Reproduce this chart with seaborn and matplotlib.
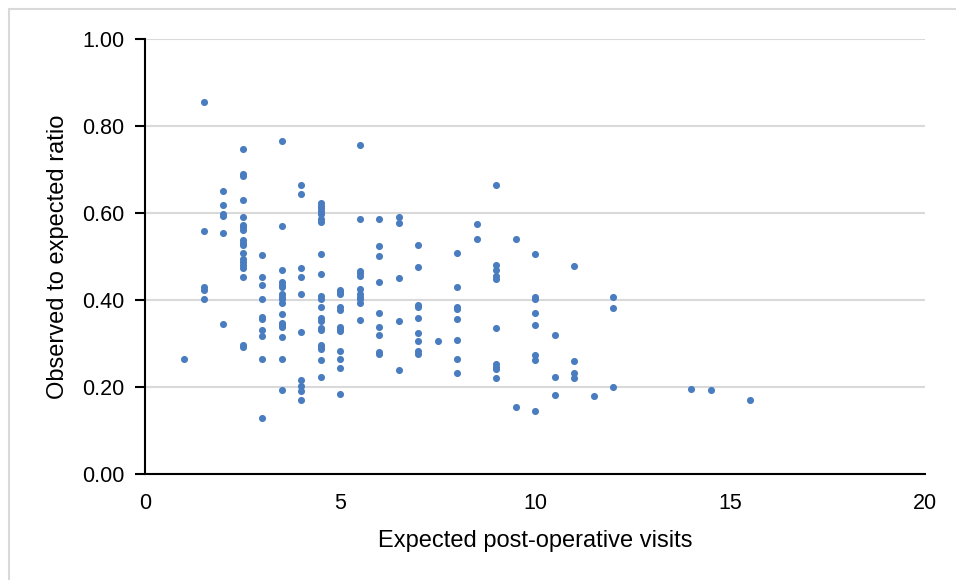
import matplotlib
matplotlib.use("Agg")
import matplotlib.pyplot as plt
import seaborn as sns
import pandas as pd
from matplotlib.patches import Rectangle

# ---- data: observed-to-expected ratio grouped by expected visits ----
x_groups = [1, 1.5, 2, 2.5, 3, 3.5, 4, 4.5, 5, 5.5, 6, 6.5, 7, 7.5, 8, 8.5,
            9, 9.5, 10, 10.5, 11, 11.5, 12, 14, 14.5, 15.5]

r_1_0 = [0.265]
r_1_5 = [0.856, 0.558, 0.429, 0.423, 0.403]
r_2_0 = [0.651, 0.619, 0.597, 0.592, 0.553, 0.344]
r_2_5 = [0.746, 0.690, 0.686, 0.630, 0.590, 0.573, 0.567, 0.561, 0.538, 0.532,
         0.526, 0.509, 0.494, 0.487, 0.481, 0.474, 0.452, 0.297, 0.291]
r_3_0 = [0.504, 0.452, 0.435, 0.403, 0.362, 0.356, 0.332, 0.318, 0.264, 0.128]
r_3_5 = [0.766, 0.571, 0.468, 0.441, 0.435, 0.430, 0.414, 0.408, 0.403, 0.393,
         0.368, 0.347, 0.343, 0.339, 0.314, 0.264, 0.192]
r_4_0 = [0.665, 0.644, 0.473, 0.452, 0.413, 0.326, 0.217, 0.203, 0.190, 0.171]
r_4_5 = [0.623, 0.617, 0.611, 0.605, 0.598, 0.586, 0.580, 0.505, 0.460, 0.409,
         0.403, 0.385, 0.358, 0.352, 0.336, 0.331, 0.297, 0.292, 0.287, 0.262, 0.222]
r_5_0 = [0.423, 0.418, 0.414, 0.383, 0.377, 0.338, 0.333, 0.328, 0.282, 0.264,
         0.244, 0.184]
r_5_5 = [0.757, 0.587, 0.467, 0.461, 0.456, 0.425, 0.414, 0.408, 0.403, 0.394, 0.354]
r_6_0 = [0.586, 0.525, 0.501, 0.441, 0.369, 0.339, 0.320, 0.280, 0.275]
r_6_5 = [0.590, 0.577, 0.451, 0.352, 0.240]
r_7_0 = [0.527, 0.477, 0.388, 0.384, 0.359, 0.325, 0.305, 0.283, 0.277]
r_7_5 = [0.306]
r_8_0 = [0.509, 0.429, 0.383, 0.379, 0.356, 0.309, 0.264, 0.232]
r_8_5 = [0.574, 0.541]
r_9_0 = [0.664, 0.481, 0.468, 0.455, 0.449, 0.336, 0.252, 0.247, 0.242, 0.220]
r_9_5 = [0.540, 0.155]
r_10_0 = [0.505, 0.406, 0.402, 0.369, 0.343, 0.273, 0.263, 0.144]
r_10_5 = [0.320, 0.222, 0.181]
r_11_0 = [0.478, 0.259, 0.233, 0.221]
r_11_5 = [0.179]
r_12_0 = [0.408, 0.381, 0.201]
r_14_0 = [0.196]
r_14_5 = [0.193]
r_15_5 = [0.171]

ratio_groups = [r_1_0, r_1_5, r_2_0, r_2_5, r_3_0, r_3_5, r_4_0, r_4_5, r_5_0,
                r_5_5, r_6_0, r_6_5, r_7_0, r_7_5, r_8_0, r_8_5, r_9_0, r_9_5,
                r_10_0, r_10_5, r_11_0, r_11_5, r_12_0, r_14_0, r_14_5, r_15_5]

x_ticks = [0, 5, 10, 15, 20]
y_ticks = [0.0, 0.2, 0.4, 0.6, 0.8, 1.0]
y_tick_labels = ["0.00", "0.20", "0.40", "0.60", "0.80", "1.00"]

rows = []
for xv, ys in zip(x_groups, ratio_groups):
    for yv in ys:
        rows.append((xv, yv))
df = pd.DataFrame(rows, columns=["Expected post-operative visits",
                                 "Observed to expected ratio"])

# ---- figure ----
sns.set_theme(style="white")
plt.rcParams["font.family"] = ["Liberation Sans", "DejaVu Sans"]

fig = plt.figure(figsize=(9.56, 5.80), dpi=100)
ax = fig.add_axes([145 / 956, 1 - 474 / 580, 780 / 956, 435 / 580])

sns.scatterplot(data=df, x="Expected post-operative visits",
                y="Observed to expected ratio", ax=ax, color="#4a7dbf",
                s=26, linewidth=0, zorder=3)

ax.set_xlim(0, 20)
ax.set_ylim(0, 1.0)
ax.set_xticks(x_ticks)
ax.set_xticklabels([str(t) for t in x_ticks])
ax.set_yticks(y_ticks)
ax.set_yticklabels(y_tick_labels)

ax.grid(axis="y", color="#d9d9d9", linewidth=1.5, zorder=0)
ax.grid(axis="x", visible=False)
ax.set_axisbelow(True)

for side in ["top", "right"]:
    ax.spines[side].set_visible(False)
for side in ["left", "bottom"]:
    ax.spines[side].set_color("black")
    ax.spines[side].set_linewidth(1.5)

ax.tick_params(axis="y", which="major", direction="out", length=7, width=1.5,
               color="black", left=True, labelsize=15.5, labelcolor="black", pad=8)
ax.tick_params(axis="x", which="major", length=0, labelsize=15.5,
               labelcolor="black", pad=14)

ax.set_xlabel("Expected post-operative visits", fontsize=17, color="black",
              labelpad=11)
ax.set_ylabel("Observed to expected ratio", fontsize=17, color="black",
              labelpad=9)

# outer chart border (light grey)
fig.patches.append(Rectangle((9 / 956, -0.1), 1.2, 1 - 9 / 580 + 0.1,
                             transform=fig.transFigure, fill=False,
                             edgecolor="#d9d9d9", linewidth=1.5))

fig.savefig("out.png", dpi=100, facecolor="white")
